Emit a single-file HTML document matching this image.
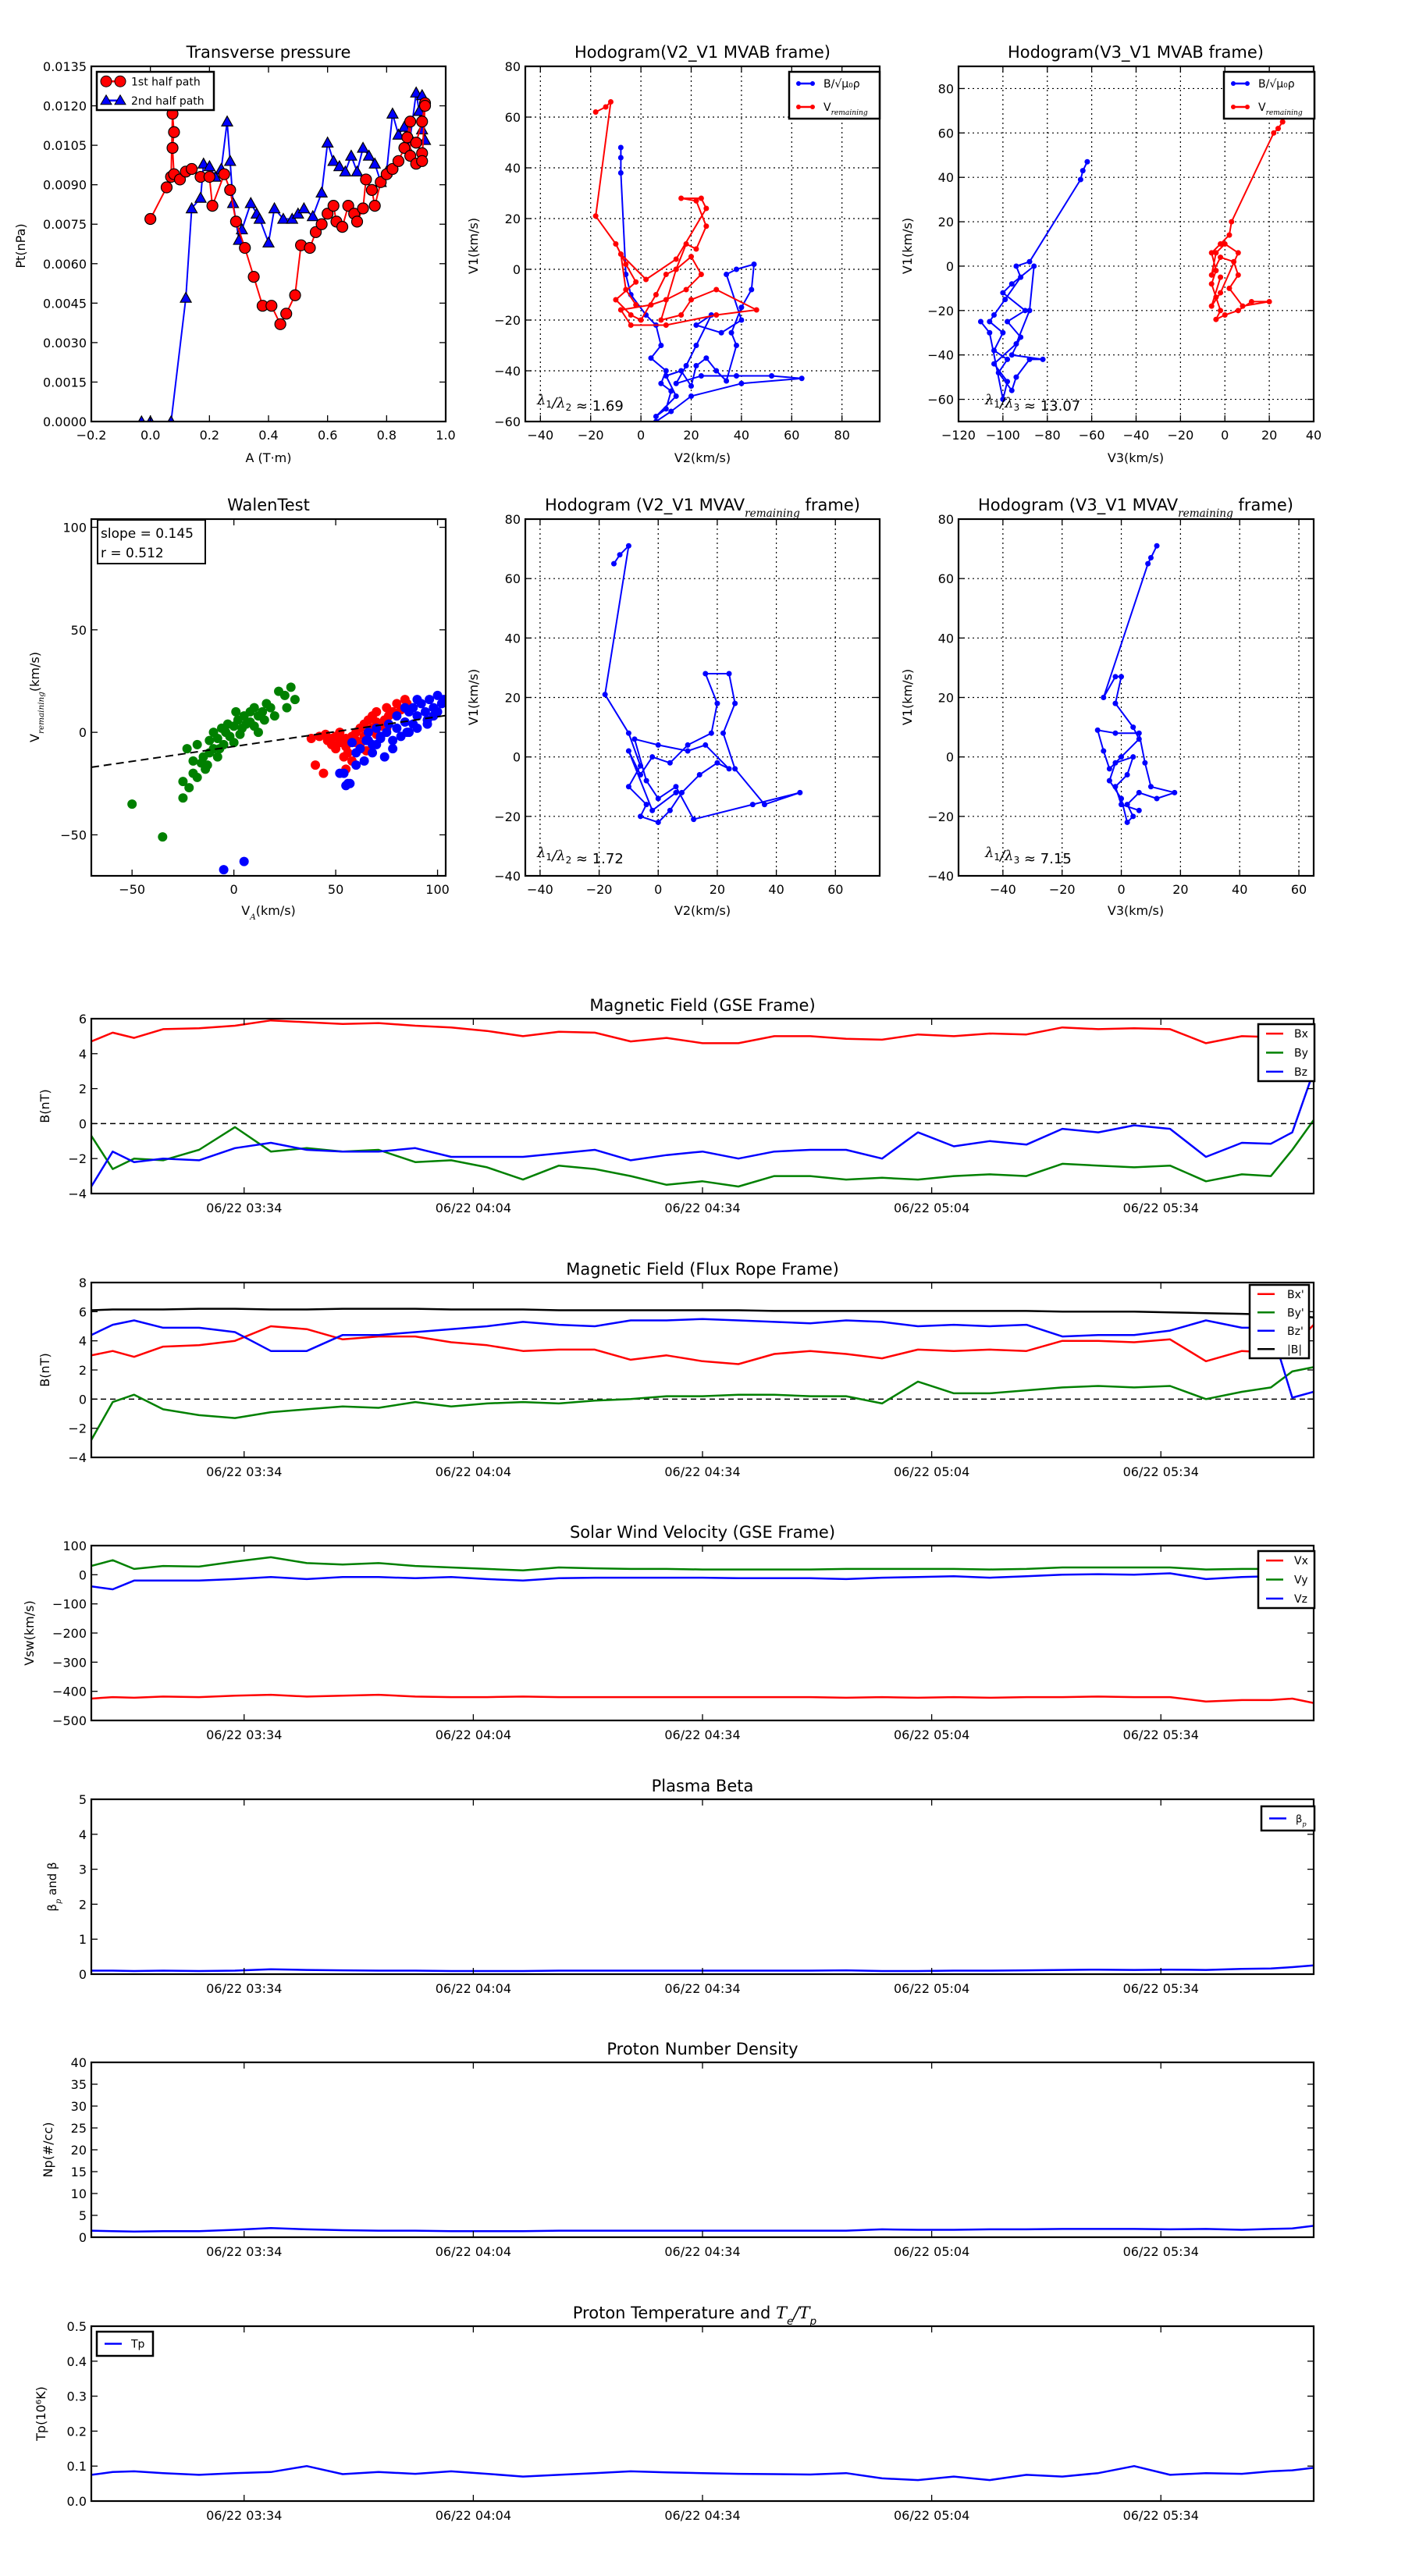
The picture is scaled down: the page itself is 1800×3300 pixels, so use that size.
<!DOCTYPE html>
<html><head><meta charset="utf-8"><style>
html,body{margin:0;padding:0;background:#fff;}
svg{display:block;}
text{font-family:"DejaVu Sans","Liberation Sans",sans-serif;fill:#000;}
</style></head><body>
<svg id="chart" xmlns="http://www.w3.org/2000/svg" width="1800" height="3300" viewBox="0 0 1800 3300"></svg>
<script>
// ---------- Transverse pressure ----------
const tp1A=[0.0,0.055,0.07,0.075,0.08,0.075,0.08,0.1,0.12,0.14,0.17,0.2,0.21,0.25,0.27,0.29,0.32,0.35,0.38,0.41,0.44,0.46,0.49,0.51,0.54,0.56,0.58,0.6,0.62,0.63,0.65,0.67,0.69,0.7,0.72,0.73,0.75,0.76,0.78,0.8,0.82,0.84,0.86,0.87,0.88,0.88,0.9,0.92,0.9,0.92,0.93,0.92,0.93];
const tp1P=[0.0077,0.0089,0.0093,0.0117,0.011,0.0104,0.0094,0.0092,0.0095,0.0096,0.0093,0.0093,0.0082,0.0094,0.0088,0.0076,0.0066,0.0055,0.0044,0.0044,0.0037,0.0041,0.0048,0.0067,0.0066,0.0072,0.0075,0.0079,0.0082,0.0076,0.0074,0.0082,0.0079,0.0076,0.0081,0.0092,0.0088,0.0082,0.0091,0.0094,0.0096,0.0099,0.0104,0.0108,0.0114,0.0101,0.0098,0.0102,0.0106,0.0114,0.0121,0.0099,0.012];
const tp2A=[-0.03,0.0,0.07,0.12,0.14,0.17,0.18,0.2,0.22,0.24,0.26,0.27,0.28,0.3,0.31,0.34,0.36,0.37,0.4,0.42,0.45,0.48,0.5,0.52,0.55,0.58,0.6,0.62,0.64,0.66,0.68,0.7,0.72,0.74,0.76,0.78,0.8,0.82,0.84,0.86,0.87,0.88,0.9,0.91,0.92,0.93,0.92];
const tp2P=[0,0,0,0.0047,0.0081,0.0085,0.0098,0.0097,0.0093,0.0096,0.0114,0.0099,0.0083,0.0069,0.0073,0.0083,0.0079,0.0077,0.0068,0.0081,0.0077,0.0077,0.0079,0.0081,0.0078,0.0087,0.0106,0.0099,0.0097,0.0095,0.0101,0.0095,0.0104,0.0101,0.0098,0.0091,0.0095,0.0117,0.0109,0.0112,0.0104,0.0108,0.0125,0.0118,0.0111,0.0107,0.0124];
const tpXTicks=[-0.2,0,0.2,0.4,0.6,0.8,1.0];
const tpYTicks=[0,0.0015,0.003,0.0045,0.006,0.0075,0.009,0.0105,0.012,0.0135];
// ---------- Hodogram V2_V1 MVAB ----------
const h1BV2=[-8,-8,-8,-6,-4,2,6,8,4,10,8,12,10,6,14,10,16,20,22,26,30,34,38,36,40,44,45,38,34,40,32,22,28,22,18,14,24,38,52,64,40,20,12,6];
const h1BV1=[48,44,38,-2,-10,-18,-22,-30,-35,-40,-45,-48,-55,-58,-50,-42,-40,-46,-38,-35,-40,-44,-30,-25,-15,-8,2,0,-2,-20,-25,-22,-18,-30,-38,-45,-42,-42,-42,-43,-45,-50,-56,-60];
const h1VV2=[-18,-14,-12,-18,-10,-6,-2,-10,-4,0,6,10,14,20,24,18,10,4,-8,-4,10,30,46,30,20,16,8,14,18,22,26,22,16,24,26,14,2,-8,-6,-2];
const h1VV1=[62,64,66,21,10,2,-5,-12,-18,-20,-10,-2,0,5,-2,-8,-12,-14,-16,-22,-22,-18,-16,-8,-12,-18,-20,0,10,8,17,27,28,28,24,4,-4,6,-8,-14];
// ---------- Hodogram V3_V1 MVAB ----------
const h2BV3=[-62,-64,-65,-88,-94,-92,-99,-104,-106,-100,-104,-98,-102,-96,-94,-88,-82,-96,-92,-98,-90,-100,-96,-86,-88,-94,-104,-98,-100,-106,-110];
const h2BV1=[47,43,39,2,0,-5,-15,-22,-25,-30,-38,-42,-48,-56,-50,-42,-42,-40,-32,-25,-20,-12,-8,0,-20,-35,-44,-52,-60,-30,-25];
const h2VV3=[26,24,22,3,2,-2,-6,-4,-6,-4,-2,-4,0,6,12,20,8,2,6,4,-2,-6,-4,0,6,-2,-6,-2];
const h2VV1=[65,62,60,20,14,10,6,-2,-8,-14,-20,-24,-22,-20,-16,-16,-18,-10,-4,2,4,-4,6,10,6,-12,-18,-5];
// ---------- Walen test ----------
const wgX=[-50,-35,-25,-25,-23,-22,-20,-20,-18,-18,-16,-15,-14,-12,-12,-10,-10,-8,-8,-6,-5,-4,-3,-2,0,0,2,3,4,5,6,8,8,10,10,12,12,14,15,16,18,20,22,25,26,28,30,-13,-7,1];
const wgY=[-35,-51,-32,-24,-8,-27,-20,-14,-22,-6,-15,-12,-18,-10,-4,-8,0,-3,-12,2,-6,0,4,-2,-5,3,6,-1,2,8,4,5,10,3,12,8,0,10,6,14,12,8,20,18,12,22,16,-16,-8,10];
const wrX=[38,40,42,44,45,46,48,50,50,52,52,54,55,55,56,58,58,60,60,62,62,64,64,66,66,68,68,70,70,72,74,75,76,78,80,82,84,85,55,60,48,52,65,70,75];
const wrY=[-3,-16,-2,-20,-1,-4,-3,-2,-8,-5,0,-12,-3,-7,-10,-2,-14,-4,0,-6,2,-2,4,0,6,2,8,5,10,3,6,12,8,10,14,11,16,14,-18,-5,-6,-3,-9,-1,2];
const wbX=[55,57,58,60,62,64,65,66,68,70,70,72,74,75,76,78,80,80,82,84,85,86,88,88,90,90,92,94,95,96,98,100,100,102,103,84,90,95,78,72,68,60,54,-5,5,56,52,66,86,98];
const wbY=[-26,-25,-5,-16,-8,-14,-4,0,-10,-6,2,-3,-12,0,4,-4,2,8,-2,5,0,10,4,12,8,2,14,10,6,16,12,10,18,14,16,12,16,4,-8,-2,-6,-10,-20,-67,-63,-25,-20,-4,0,8];
const walenSlope=0.145, walenIntercept=-6.9;
// ---------- Hodogram MVAV ----------
const h3V2=[-15,-13,-10,-18,-10,-6,-10,-4,-6,0,4,8,14,20,24,16,10,0,-8,-4,0,6,12,32,48,36,26,22,26,24,16,20,18,10,4,-2,-6,-10,-2,6];
const h3V1=[65,68,71,21,8,-3,-10,-16,-20,-22,-18,-12,-6,-2,-4,4,2,4,6,-8,-14,-10,-21,-16,-12,-16,-4,8,18,28,28,18,8,4,-2,0,-6,2,-18,-12];
const h4V3=[12,10,9,-6,-2,0,-2,4,6,0,-4,-6,-8,-2,6,8,10,18,12,6,2,4,2,0,-4,-2,4,2,-2,0,6];
const h4V1=[71,67,65,20,27,27,18,10,6,0,-4,2,9,8,8,-2,-10,-12,-14,-12,-16,-20,-22,-14,-8,-2,0,-6,-10,-16,-18];
// ---------- Time series (minutes after 03:14) ----------
const tsT=[0,2.8,5.6,9.4,14.1,18.8,23.5,28.2,32.9,37.6,42.4,47.1,51.8,56.5,61.2,65.9,70.6,75.3,80,84.7,89.4,94.1,98.8,103.5,108.2,112.9,117.6,122.4,127.1,131.8,136.5,141.2,145.9,150.6,154.4,157.2,160];
const tsTickT=[20,50,80,110,140];
const tsTickLab=["06/22 03:34","06/22 04:04","06/22 04:34","06/22 05:04","06/22 05:34"];
const gBx=[4.7,5.2,4.9,5.4,5.45,5.6,5.9,5.8,5.7,5.75,5.6,5.5,5.3,5.0,5.25,5.2,4.7,4.9,4.6,4.6,5.0,5.0,4.85,4.8,5.1,5.0,5.15,5.1,5.5,5.4,5.45,5.4,4.6,5.0,4.95,4.9,4.6];
const gBy=[-0.7,-2.6,-2.0,-2.1,-1.5,-0.2,-1.6,-1.4,-1.6,-1.5,-2.2,-2.1,-2.5,-3.2,-2.4,-2.6,-3.0,-3.5,-3.3,-3.6,-3.0,-3.0,-3.2,-3.1,-3.2,-3.0,-2.9,-3.0,-2.3,-2.4,-2.5,-2.4,-3.3,-2.9,-3.0,-1.5,0.2];
const gBz=[-3.6,-1.6,-2.2,-2.0,-2.1,-1.4,-1.1,-1.5,-1.6,-1.6,-1.4,-1.9,-1.9,-1.9,-1.7,-1.5,-2.1,-1.8,-1.6,-2.0,-1.6,-1.5,-1.5,-2.0,-0.5,-1.3,-1.0,-1.2,-0.3,-0.5,-0.1,-0.3,-1.9,-1.1,-1.15,-0.5,3.0];
const fBx=[3.0,3.3,2.9,3.6,3.7,4.0,5.0,4.8,4.1,4.3,4.3,3.9,3.7,3.3,3.4,3.4,2.7,3.0,2.6,2.4,3.1,3.3,3.1,2.8,3.4,3.3,3.4,3.3,4.0,4.0,3.9,4.1,2.6,3.3,3.2,3.6,5.1];
const fBy=[-2.8,-0.2,0.3,-0.7,-1.1,-1.3,-0.9,-0.7,-0.5,-0.6,-0.2,-0.5,-0.3,-0.2,-0.3,-0.1,0.0,0.2,0.2,0.3,0.3,0.2,0.2,-0.3,1.2,0.4,0.4,0.6,0.8,0.9,0.8,0.9,0.0,0.5,0.8,1.9,2.2];
const fBz=[4.4,5.1,5.4,4.9,4.9,4.6,3.3,3.3,4.4,4.4,4.6,4.8,5.0,5.3,5.1,5.0,5.4,5.4,5.5,5.4,5.3,5.2,5.4,5.3,5.0,5.1,5.0,5.1,4.3,4.4,4.4,4.7,5.4,4.9,4.9,0.1,0.5];
const fB=[6.1,6.15,6.15,6.15,6.2,6.2,6.15,6.15,6.2,6.2,6.2,6.15,6.15,6.15,6.1,6.1,6.1,6.1,6.1,6.1,6.05,6.05,6.05,6.05,6.05,6.05,6.05,6.05,6.0,6.0,6.0,5.95,5.9,5.85,5.8,5.75,5.6];
const vX=[-425,-420,-422,-418,-420,-415,-412,-418,-415,-412,-418,-420,-420,-418,-420,-420,-420,-420,-420,-420,-420,-420,-422,-420,-422,-420,-422,-420,-420,-418,-420,-420,-435,-430,-430,-425,-440];
const vY=[30,50,20,30,28,45,60,40,35,40,30,25,20,15,25,22,20,20,18,18,18,18,20,20,20,20,18,20,25,25,25,25,18,20,20,20,60];
const vZ=[-40,-50,-20,-20,-20,-15,-8,-15,-8,-8,-12,-8,-15,-20,-12,-10,-10,-10,-10,-12,-12,-12,-15,-10,-8,-5,-10,-5,0,2,0,5,-15,-8,-5,-5,45];
const betaP=[0.1,0.1,0.09,0.1,0.09,0.1,0.14,0.12,0.11,0.1,0.1,0.09,0.09,0.09,0.1,0.1,0.1,0.1,0.1,0.1,0.1,0.1,0.11,0.09,0.09,0.1,0.1,0.11,0.12,0.13,0.12,0.13,0.12,0.15,0.16,0.2,0.25];
const npD=[1.5,1.4,1.3,1.4,1.4,1.7,2.1,1.8,1.6,1.5,1.5,1.4,1.4,1.4,1.5,1.5,1.5,1.5,1.5,1.5,1.5,1.5,1.5,1.8,1.7,1.7,1.8,1.8,1.9,1.9,1.9,1.8,1.9,1.7,1.9,2.0,2.6];
const tpT=[0.075,0.083,0.085,0.08,0.075,0.08,0.083,0.1,0.077,0.083,0.078,0.085,0.078,0.07,0.075,0.08,0.085,0.082,0.08,0.078,0.077,0.076,0.08,0.065,0.06,0.07,0.06,0.075,0.07,0.08,0.1,0.075,0.08,0.078,0.085,0.088,0.095];

// ---------- helpers ----------
const NS='http://www.w3.org/2000/svg';
const svg=document.getElementById('chart');
function el(tag,attrs,parent){const e=document.createElementNS(NS,tag);for(const k in attrs)e.setAttribute(k,attrs[k]);(parent||svg).appendChild(e);return e;}
function txt(s,x,y,size,anchor,parent){const t=el('text',{x:x,y:y,'font-size':size,'text-anchor':anchor||'middle'},parent);t.textContent=s;return t;}
function minus(s){return String(s).replace('-','\u2212');}
let clipId=0;
function axes(o){
  const g=el('g',{});
  
  
  const sx=v=>o.x+(v-o.xmin)/(o.xmax-o.xmin)*o.w;
  const sy=v=>o.y+o.h-(v-o.ymin)/(o.ymax-o.ymin)*o.h;
  const id='c'+(clipId++);
  const cp=el('clipPath',{id:id},g);el('rect',{x:o.x,y:o.y,width:o.w,height:o.h},cp);
  if(o.grid){
    const gg=el('g',{stroke:'#000','stroke-width':1.2,'stroke-dasharray':'2,4'},g);
    
    
    o.xt.forEach(v=>{const X=sx(v);if(X>o.x+1&&X<o.x+o.w-1)el('line',{x1:X,x2:X,y1:o.y,y2:o.y+o.h},gg);});
    o.yt.forEach(v=>{const Y=sy(v);if(Y>o.y+1&&Y<o.y+o.h-1)el('line',{x1:o.x,x2:o.x+o.w,y1:Y,y2:Y},gg);});
  }
  const data=el('g',{'clip-path':'url(#'+id+')'},g);
  
  
  function finish(){
    const f=el('g',{},g);
    
    
    el('rect',{x:o.x,y:o.y,width:o.w,height:o.h,fill:'none',stroke:'#000','stroke-width':2.2},f);
    const tk=el('g',{stroke:'#000','stroke-width':1.3},f);
    o.xt.forEach((v,i)=>{const X=sx(v);if(X<o.x-1||X>o.x+o.w+1)return;
      el('line',{x1:X,x2:X,y1:o.y+o.h,y2:o.y+o.h-8},tk);el('line',{x1:X,x2:X,y1:o.y,y2:o.y+8},tk);
      const lab=txt(o.xl?o.xl[i]:minus(o.xf(v)),X,o.y+o.h+(o.xoff||23),16,'middle',f);
      
      });
    o.yt.forEach(v=>{const Y=sy(v);if(Y<o.y-1||Y>o.y+o.h+1)return;
      el('line',{x1:o.x,x2:o.x+8,y1:Y,y2:Y},tk);el('line',{x1:o.x+o.w,x2:o.x+o.w-8,y1:Y,y2:Y},tk);
      const lab=txt(minus(o.yf(v)),o.x-6,Y+6,16,'end',f);
      
      });
  }
  return {g,sx,sy,data,finish,o};
}
function line(ax,xs,ys,color,w,name){
  const d=xs.map((x,i)=>(i?'L':'M')+ax.sx(x).toFixed(1)+' '+ax.sy(ys[i]).toFixed(1)).join('');
  const p=el('path',{d:d,fill:'none',stroke:color,'stroke-width':w,'stroke-linejoin':'round'},ax.data);
  
  
  return p;
}
function dots(ax,xs,ys,color,r,name,edge){
  const gg=el('g',{fill:color,stroke:edge||'none','stroke-width':edge?1.2:0},ax.data);
  
  
  xs.forEach((x,i)=>{el('circle',{cx:ax.sx(x),cy:ax.sy(ys[i]),r:r},gg);});
}
function tris(ax,xs,ys,color,s,name){
  const gg=el('g',{fill:color,stroke:'#000','stroke-width':1.2},ax.data);
  
  
  xs.forEach((x,i)=>{const X=ax.sx(x),Y=ax.sy(ys[i]);el('path',{d:`M${X} ${Y-s}L${X+s} ${Y+s*0.8}L${X-s} ${Y+s*0.8}Z`},gg);});
}
function legend(x,y,w,h,items,fs,name){
  const gg=el('g',{});
  
  
  el('rect',{x:x,y:y,width:w,height:h,fill:'#fff',stroke:'#000','stroke-width':2.5},gg);
  const step=h/items.length;
  items.forEach((it,i)=>{
    const cy=y+step*(i+0.5);
    el('line',{x1:x+10,x2:x+32,y1:cy,y2:cy,stroke:it.c,'stroke-width':2.5},gg);
    if(it.m==='o'){el('circle',{cx:x+12,cy:cy,r:it.r||3,fill:it.c,stroke:it.e||'none'},gg);el('circle',{cx:x+30,cy:cy,r:it.r||3,fill:it.c,stroke:it.e||'none'},gg);}
    if(it.m==='^'){[x+12,x+30].forEach(X=>el('path',{d:`M${X} ${cy-7}L${X+7} ${cy+5}L${X-7} ${cy+5}Z`,fill:it.c,stroke:'#000'},gg));}
    const t=txt('',x+(it.tx||44),cy+5,fs,'start',gg);
    it.t(t);
    
    
  });
}
function plain(s){return t=>{t.textContent=s;};}
function addSub(t,base,sub,after,italicSub){
  const a=el('tspan',{},t);a.textContent=base;
  const b=el('tspan',{'baseline-shift':'sub','font-size':'65%','font-style':italicSub?'italic':'normal','font-family':'DejaVu Serif, serif'},t);b.textContent=sub;
  if(after){const c=el('tspan',{},t);c.textContent=after;}
}
function title(s,x,y,name){const t=txt(s,x,y,21,'middle');return t;}
function ylab(s,x,y,name,size){const t=el('text',{x:0,y:0,'font-size':size||16,'text-anchor':'middle',transform:`translate(${x},${y}) rotate(-90)`});t.textContent=s;return t;}
function xlab(s,x,y,name){const t=txt(s,x,y,16,'middle');return t;}
function lamb(x,y,a,b,val,name){
  const t=el('text',{x:x,y:y,'font-size':18});
  
  
  const s=(str,sub)=>{const q=el('tspan',{'font-style':'italic','font-family':'DejaVu Serif, serif'},t);q.textContent=str;const r=el('tspan',{dy:4,'font-size':12},t);r.textContent=sub;const r2=el('tspan',{dy:-4},t);r2.textContent='';};
  s('λ',a);const sl=el('tspan',{'font-style':'italic'},t);sl.textContent='/';s('λ',b);const v=el('tspan',{},t);v.textContent=' ≈ '+val;
}

// ---------- Row 1 ----------
const f4=v=>v.toFixed(4), f1=v=>v.toFixed(1), f0=v=>String(v);
let A=axes({name:'transverse-pressure-plot',x:117,y:85,w:454,h:455,xmin:-0.2,xmax:1.0,ymin:0,ymax:0.0135,xt:tpXTicks,yt:tpYTicks,xf:f1,yf:f4});
line(A,tp2A,tp2P,'#0000ff',2,'second-half-path-line');
tris(A,tp2A,tp2P,'#0000ff',7,'second-half-path-markers');
line(A,tp1A,tp1P,'#ff0000',2,'first-half-path-line');
dots(A,tp1A,tp1P,'#ff0000',7,'first-half-path-markers','#000');
A.finish();
title('Transverse pressure',344,74,'transverse-pressure-title');
ylab('Pt(nPa)',32,315,'pt-axis-title');
xlab('A (T·m)',344,592,'a-axis-title');
legend(124,92,150,49,[{c:'#ff0000',m:'o',r:7,e:'#000',t:plain('1st half path')},{c:'#0000ff',m:'^',t:plain('2nd half path')}],14,'transverse-pressure-legend');

let H1=axes({name:'hodogram-v2-v1-mvab',x:673,y:85,w:454,h:455,xmin:-46,xmax:95,ymin:-60,ymax:80,xt:[-40,-20,0,20,40,60,80],yt:[-60,-40,-20,0,20,40,60,80],xf:f0,yf:f0,grid:true});
line(H1,h1BV2,h1BV1,'#0000ff',2,'b-hodogram-line');dots(H1,h1BV2,h1BV1,'#0000ff',3.5,'b-hodogram-points');
line(H1,h1VV2,h1VV1,'#ff0000',2,'v-hodogram-line');dots(H1,h1VV2,h1VV1,'#ff0000',3.5,'v-hodogram-points');
H1.finish();
title('Hodogram(V2_V1 MVAB frame)',900,74,'hodogram-v2-v1-mvab-title');
ylab('V1(km/s)',612,315,'v1-axis-title');
xlab('V2(km/s)',900,592,'v2-axis-title');
lamb(688,518,'1','2','1.69','eigenvalue-ratio-label');
legend(1011,92,116,60,[{c:'#0000ff',m:'o',t:t=>{t.textContent='B/√μ₀ρ';}},{c:'#ff0000',m:'o',t:t=>addSub(t,'V','remaining','',true)}],14,'hodogram-v2-v1-mvab-legend');

let H2=axes({name:'hodogram-v3-v1-mvab',x:1228,y:85,w:455,h:455,xmin:-120,xmax:40,ymin:-70,ymax:90,xt:[-120,-100,-80,-60,-40,-20,0,20,40],yt:[-60,-40,-20,0,20,40,60,80],xf:f0,yf:f0,grid:true});
line(H2,h2BV3,h2BV1,'#0000ff',2,'b-hodogram-line');dots(H2,h2BV3,h2BV1,'#0000ff',3.5,'b-hodogram-points');
line(H2,h2VV3,h2VV1,'#ff0000',2,'v-hodogram-line');dots(H2,h2VV3,h2VV1,'#ff0000',3.5,'v-hodogram-points');
H2.finish();
title('Hodogram(V3_V1 MVAB frame)',1455,74,'hodogram-v3-v1-mvab-title');
ylab('V1(km/s)',1168,315,'v1-axis-title');
xlab('V3(km/s)',1455,592,'v3-axis-title');
lamb(1262,518,'1','3','13.07','eigenvalue-ratio-label');
legend(1568,92,116,60,[{c:'#0000ff',m:'o',t:t=>{t.textContent='B/√μ₀ρ';}},{c:'#ff0000',m:'o',t:t=>addSub(t,'V','remaining','',true)}],14,'hodogram-v3-v1-mvab-legend');

// ---------- Row 2 ----------
let W=axes({name:'walen-test-plot',x:117,y:665,w:454,h:457,xmin:-70,xmax:104,ymin:-70,ymax:104,xt:[-50,0,50,100],yt:[-50,0,50,100],xf:f0,yf:f0});
dots(W,wgX,wgY,'#008000',6,'walen-green-points');
dots(W,wrX,wrY,'#ff0000',6,'walen-red-points');
dots(W,wbX,wbY,'#0000ff',6,'walen-blue-points');
const fitX=[-70,104];
const fl=el('path',{d:'M'+W.sx(fitX[0])+' '+W.sy(walenSlope*fitX[0]+walenIntercept)+'L'+W.sx(fitX[1])+' '+W.sy(walenSlope*fitX[1]+walenIntercept),stroke:'#000','stroke-width':2,'stroke-dasharray':'10,6',fill:'none'},W.data);


W.finish();
title('WalenTest',344,654,'walen-test-title');
const wb=el('g',{});


el('rect',{x:125,y:666,width:138,height:56,fill:'#fff',stroke:'#000','stroke-width':2},wb);
txt('slope = 0.145',129,689,17,'start',wb);
txt('r = 0.512',129,714,17,'start',wb);
(()=>{const t=el('text',{x:0,y:0,'font-size':16,'text-anchor':'middle',transform:'translate(50,893) rotate(-90)'});addSub(t,'V','remaining','(km/s)',true);})();
(()=>{const t=txt('',344,1172,16,'middle');addSub(t,'V','A','(km/s)',true);})();

let H3=axes({name:'hodogram-v2-v1-mvav',x:673,y:665,w:454,h:457,xmin:-45,xmax:75,ymin:-40,ymax:80,xt:[-40,-20,0,20,40,60],yt:[-40,-20,0,20,40,60,80],xf:f0,yf:f0,grid:true});
line(H3,h3V2,h3V1,'#0000ff',2,'b-hodogram-line');dots(H3,h3V2,h3V1,'#0000ff',3.5,'b-hodogram-points');
H3.finish();
(()=>{const t=txt('',900,654,21,'middle');addSub(t,'Hodogram (V2_V1 MVAV','remaining',' frame)',true);})();
ylab('V1(km/s)',612,893,'v1-axis-title');
xlab('V2(km/s)',900,1172,'v2-axis-title');
lamb(688,1098,'1','2','1.72','eigenvalue-ratio-label');

let H4=axes({name:'hodogram-v3-v1-mvav',x:1228,y:665,w:455,h:457,xmin:-55,xmax:65,ymin:-40,ymax:80,xt:[-40,-20,0,20,40,60],yt:[-40,-20,0,20,40,60,80],xf:f0,yf:f0,grid:true});
line(H4,h4V3,h4V1,'#0000ff',2,'b-hodogram-line');dots(H4,h4V3,h4V1,'#0000ff',3.5,'b-hodogram-points');
H4.finish();
(()=>{const t=txt('',1455,654,21,'middle');addSub(t,'Hodogram (V3_V1 MVAV','remaining',' frame)',true);})();
ylab('V1(km/s)',1168,893,'v1-axis-title');
xlab('V3(km/s)',1455,1172,'v3-axis-title');
lamb(1262,1098,'1','3','7.15','eigenvalue-ratio-label');

// ---------- Time series ----------
function ts(name,top,ymin,ymax,yt,yf){
  return axes({name:name,x:117,y:top,w:1566,h:224,xmin:0,xmax:160,ymin:ymin,ymax:ymax,xt:tsTickT,xl:tsTickLab,yt:yt,xf:f0,yf:yf,xoff:24});
}
function zero(ax){const z=el('line',{x1:ax.sx(0),x2:ax.sx(160),y1:ax.sy(0),y2:ax.sy(0),stroke:'#000','stroke-width':1.5,'stroke-dasharray':'7,5'},ax.data);}
const cx=900;
let T1=ts('magnetic-field-gse-plot',1305,-4,6,[-4,-2,0,2,4,6],f0);
zero(T1);line(T1,tsT,gBx,'#ff0000',2.5,'bx-line');line(T1,tsT,gBy,'#008000',2.5,'by-line');line(T1,tsT,gBz,'#0000ff',2.5,'bz-line');T1.finish();
title('Magnetic Field (GSE Frame)',cx,1295,'magnetic-field-gse-title');ylab('B(nT)',63,1417,'b-axis-title');
legend(1612,1312,72,73,[{c:'#ff0000',t:plain('Bx'),tx:46},{c:'#008000',t:plain('By'),tx:46},{c:'#0000ff',t:plain('Bz'),tx:46}],14,'gse-legend');

let T2=ts('magnetic-field-flux-rope-plot',1643,-4,8,[-4,-2,0,2,4,6,8],f0);
zero(T2);line(T2,tsT,fBx,'#ff0000',2.5,'bx-prime-line');line(T2,tsT,fBy,'#008000',2.5,'by-prime-line');line(T2,tsT,fBz,'#0000ff',2.5,'bz-prime-line');line(T2,tsT,fB,'#000000',2.5,'b-magnitude-line');T2.finish();
title('Magnetic Field (Flux Rope Frame)',cx,1633,'magnetic-field-flux-rope-title');ylab('B(nT)',63,1755,'b-axis-title');
legend(1601,1646,76,94,[{c:'#ff0000',t:plain("Bx'"),tx:48},{c:'#008000',t:plain("By'"),tx:48},{c:'#0000ff',t:plain("Bz'"),tx:48},{c:'#000',t:plain('|B|'),tx:48}],14,'flux-rope-legend');

let T3=ts('solar-wind-velocity-plot',1980,-500,100,[-500,-400,-300,-200,-100,0,100],f0);
line(T3,tsT,vX,'#ff0000',2.5,'vx-line');line(T3,tsT,vY,'#008000',2.5,'vy-line');line(T3,tsT,vZ,'#0000ff',2.5,'vz-line');T3.finish();
title('Solar Wind Velocity (GSE Frame)',cx,1970,'solar-wind-velocity-title');ylab('Vsw(km/s)',43,2092,'vsw-axis-title');
legend(1612,1987,72,73,[{c:'#ff0000',t:plain('Vx'),tx:46},{c:'#008000',t:plain('Vy'),tx:46},{c:'#0000ff',t:plain('Vz'),tx:46}],14,'velocity-legend');

let T4=ts('plasma-beta-plot',2305,0,5,[0,1,2,3,4,5],f0);
line(T4,tsT,betaP,'#0000ff',2.5,'beta-p-line');T4.finish();
title('Plasma Beta',cx,2295,'plasma-beta-title');
(()=>{const t=el('text',{x:0,y:0,'font-size':15,'text-anchor':'middle',transform:'translate(72,2417) rotate(-90)'});addSub(t,'β','p',' and β',true);})();
legend(1616,2314,68,31,[{c:'#0000ff',t:t=>addSub(t,'β','p','',true),tx:44}],13,'beta-legend');

let T5=ts('proton-density-plot',2642,0,40,[0,5,10,15,20,25,30,35,40],f0);
line(T5,tsT,npD,'#0000ff',2.5,'density-line');T5.finish();
title('Proton Number Density',cx,2632,'proton-density-title');ylab('Np(#/cc)',67,2754,'np-axis-title');

let T6=ts('proton-temperature-plot',2980,0,0.5,[0,0.1,0.2,0.3,0.4,0.5],f1);
line(T6,tsT,tpT,'#0000ff',2.5,'tp-line');T6.finish();
(()=>{const t=txt('Proton Temperature and ',cx-10,2970,21,'middle');const a=el('tspan',{'font-style':'italic','font-family':'DejaVu Serif, serif'},t);a.textContent='T';const b=el('tspan',{'baseline-shift':'sub','font-size':'65%','font-style':'italic'},t);b.textContent='e';const c=el('tspan',{'font-style':'italic','font-family':'DejaVu Serif, serif'},t);c.textContent='/T';const d=el('tspan',{'baseline-shift':'sub','font-size':'65%','font-style':'italic'},t);d.textContent='p';})();
ylab('Tp(10⁶K)',58,3092,'tp-axis-title');
legend(124,2987,72,31,[{c:'#0000ff',t:plain('Tp'),tx:44}],14,'tp-legend');
</script>
</body></html>
